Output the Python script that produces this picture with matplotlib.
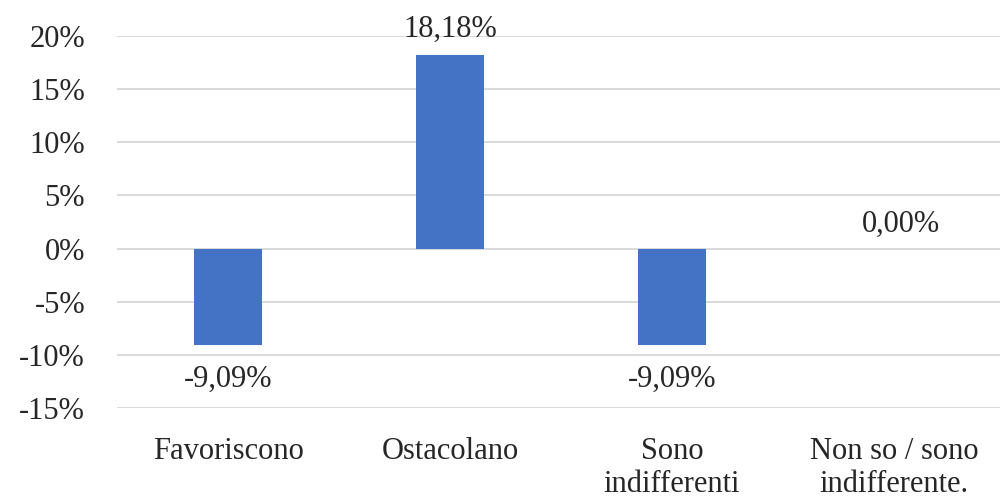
import matplotlib
matplotlib.use("Agg")
import matplotlib.pyplot as plt
from matplotlib.ticker import FuncFormatter

# dati
categorie = ["Favoriscono", "Ostacolano", "Sono\nindifferenti", "Non so / sono\nindifferente."]
valori = [-9.09, 18.18, -9.09, 0.00]
tick_y = [-15, -10, -5, 0, 5, 10, 15, 20]

plt.rcParams["font.family"] = ["Liberation Serif", "DejaVu Serif"]
testo = "#262626"
fs = 22

fig = plt.figure(figsize=(10, 4.99), dpi=100)
ax = fig.add_axes([0.117, 0.182, 0.888, 0.746])

x = range(len(categorie))
ax.bar(x, valori, width=0.31, color="#4472C4", zorder=3)

ax.set_ylim(-15, 20)
ax.set_xlim(-0.5, len(categorie) - 0.5)
ax.set_yticks(tick_y)
ax.yaxis.set_major_formatter(FuncFormatter(lambda v, p: f"{v:.0f}%"))
ax.grid(axis="y", color="#d9d9d9", linewidth=1.4, zorder=0)
for s in ax.spines.values():
    s.set_visible(False)
ax.tick_params(length=0, labelsize=fs, colors=testo)
ax.tick_params(axis="y", pad=23)
ax.tick_params(axis="x", pad=21)
ax.set_xticks(list(x))
ax.set_xticklabels(categorie, va="top", linespacing=1.15)

# etichette valori
for xi, v in zip(x, valori):
    s = f"{v:.2f}%".replace(".", ",")
    if v > 0:
        ax.text(xi, v + 1.7, s, ha="center", va="baseline", fontsize=fs, color=testo)
    elif v < 0:
        ax.text(xi, v - 1.8, s, ha="center", va="top", fontsize=fs, color=testo)
    else:
        ax.text(xi + 0.03, v + 1.6, s, ha="center", va="baseline", fontsize=fs, color=testo)

fig.savefig("out.png", dpi=100)
